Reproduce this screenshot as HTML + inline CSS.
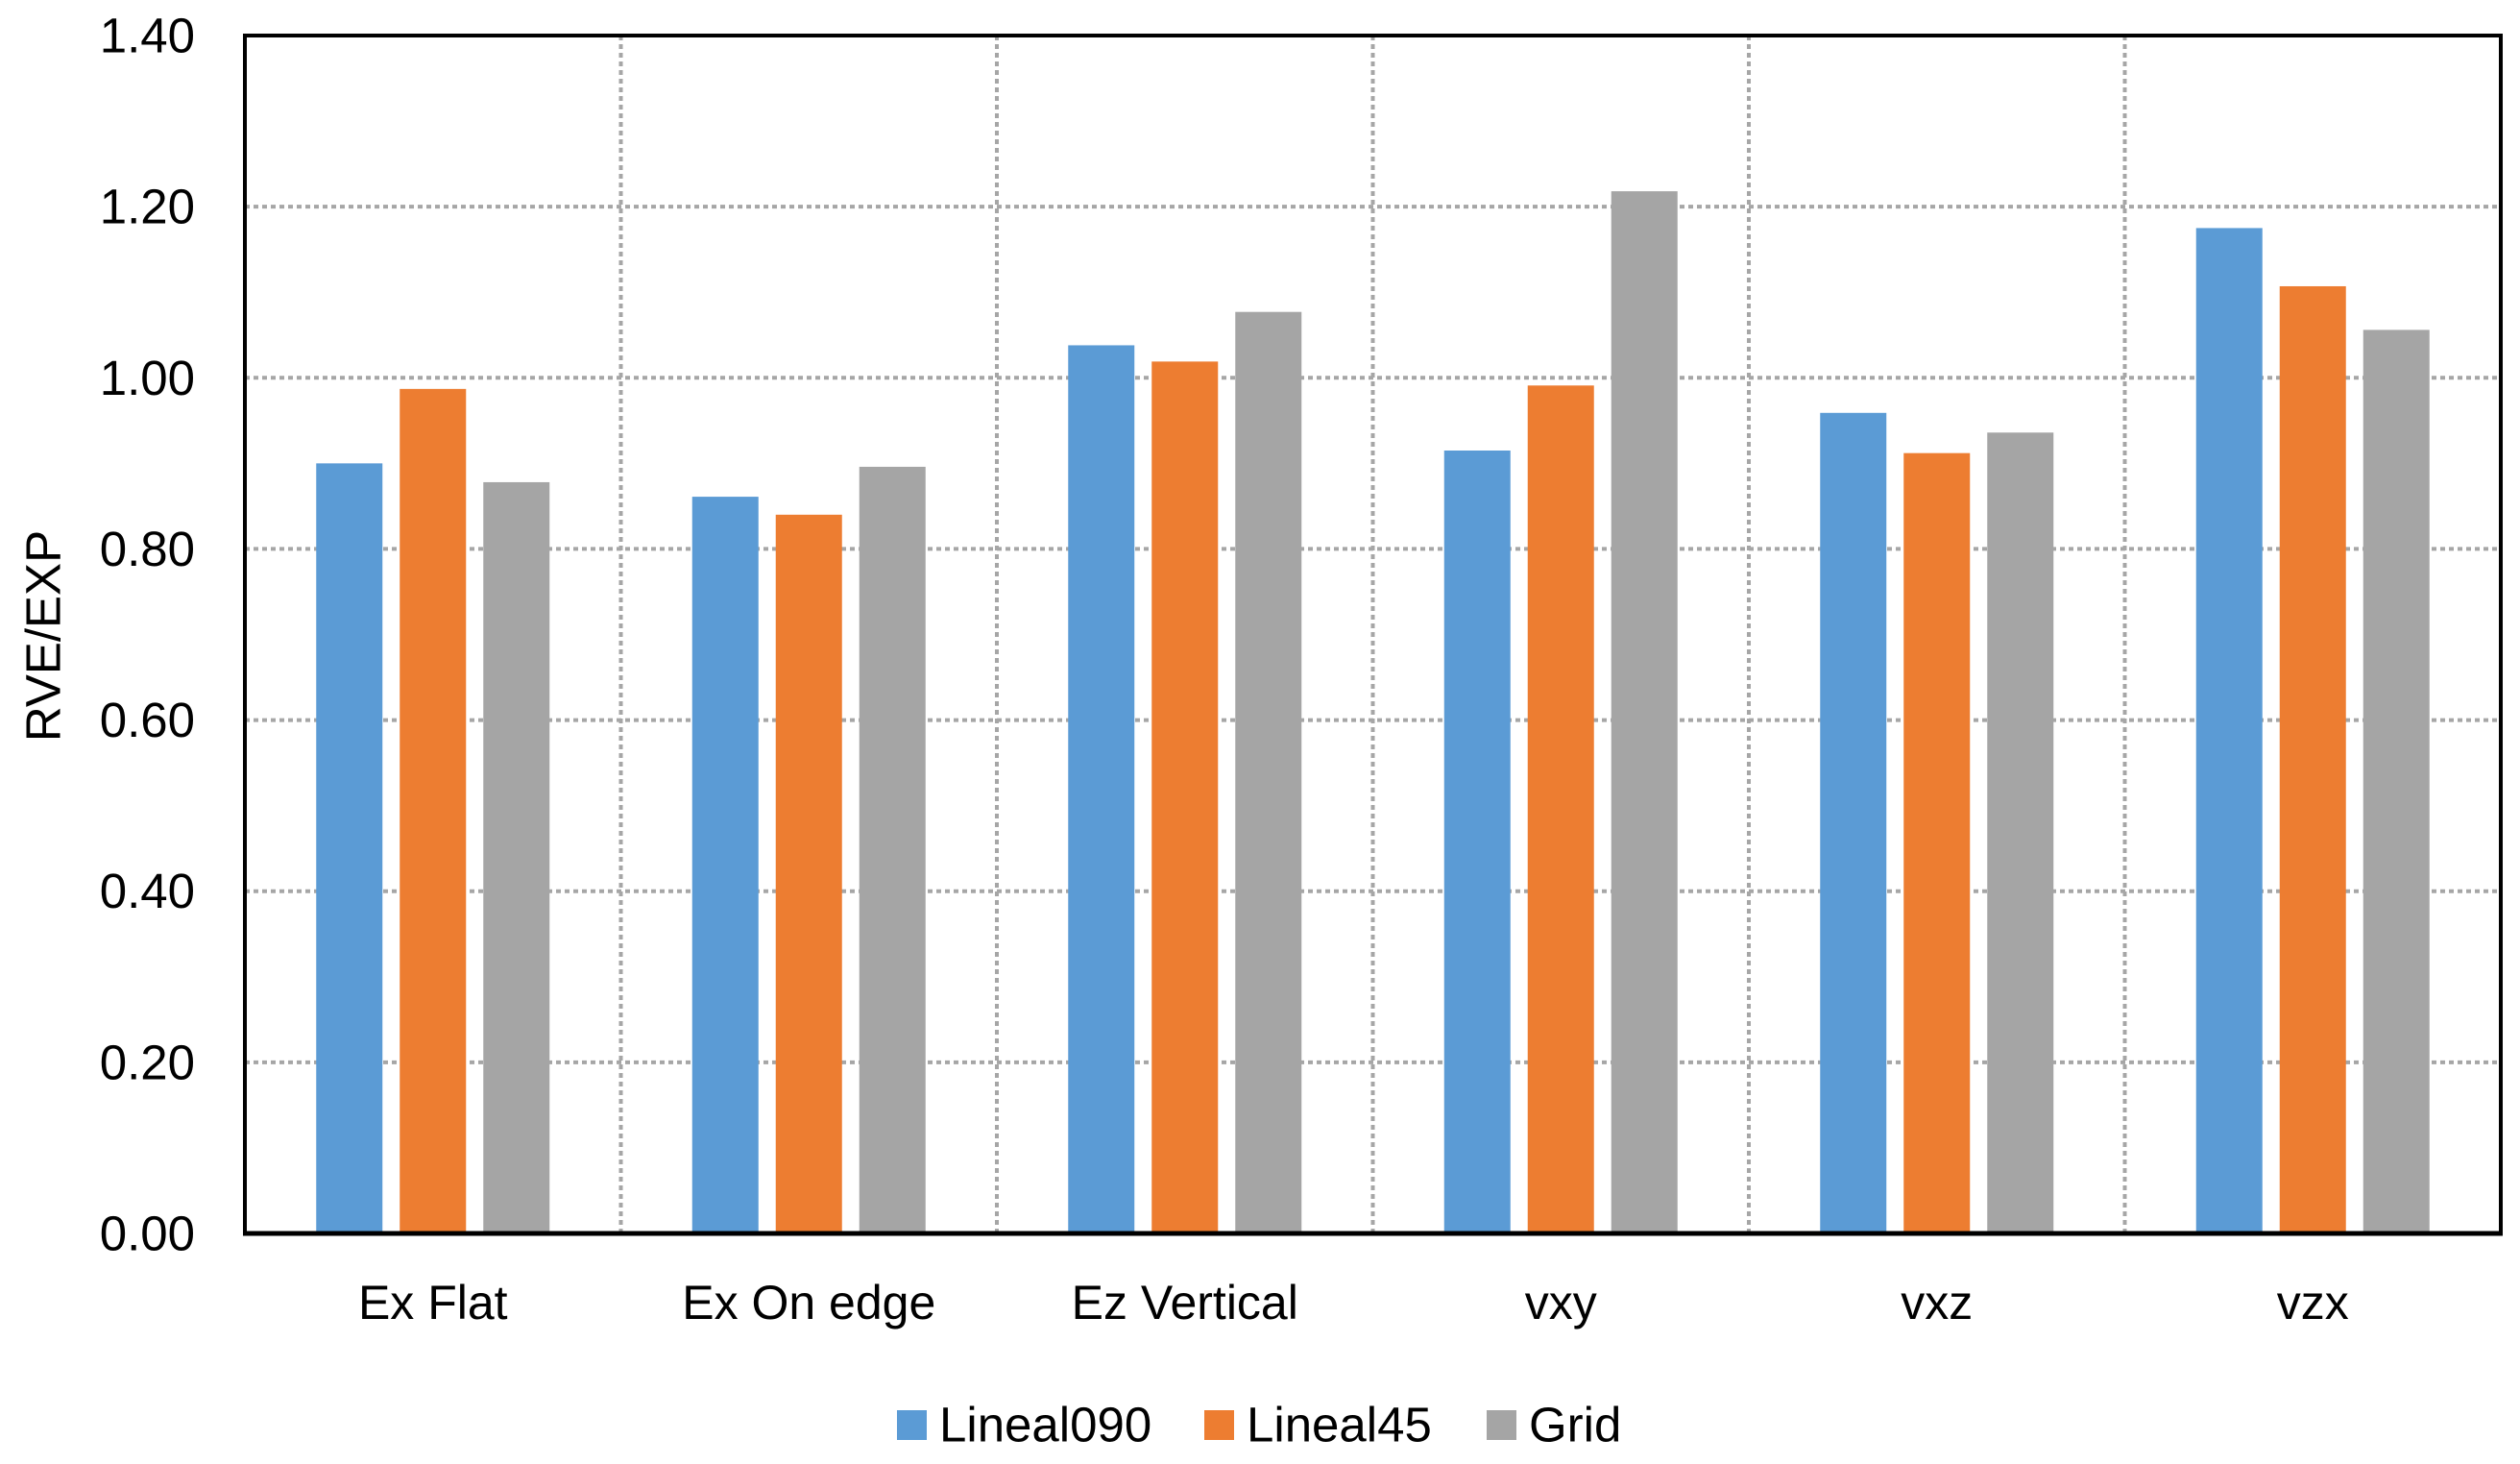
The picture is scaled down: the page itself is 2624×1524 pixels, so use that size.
<!DOCTYPE html>
<html><head><meta charset="utf-8"><style>
html,body{margin:0;padding:0;background:#fff;}
svg{display:block;font-family:"Liberation Sans",sans-serif;}
</style></head><body>
<svg id="chart" width="2624" height="1524" viewBox="0 0 2624 1524">
<g id="grid"></g>
<g id="bars"></g>
<rect x="255" y="37" width="2349" height="1247" fill="none" stroke="#000" stroke-width="4"/>
<line x1="253" y1="1284" x2="2606" y2="1284" stroke="#000" stroke-width="5"/>
<g id="yticks"></g>
<g id="xticks"></g>
<text x="45" y="662" transform="rotate(-90 45 662)" text-anchor="middle" dominant-baseline="central" font-size="51" fill="#000">RVE/EXP</text>
<g id="legend"></g>
</svg>
<script>
const categories = ["Ex Flat","Ex On edge","Ez Vertical","vxy","vxz","vzx"];
const seriesNames = ["Lineal090","Lineal45","Grid"];
const lineal090 = [0.900,0.861,1.038,0.915,0.959,1.175];
const lineal45 = [0.987,0.840,1.019,0.991,0.912,1.107];
const grid = [0.878,0.896,1.077,1.218,0.936,1.056];
const yTicks = [0,0.2,0.4,0.6,0.8,1.0,1.2,1.4];
const yTickLabels = ["0.00","0.20","0.40","0.60","0.80","1.00","1.20","1.40"];

const NS="http://www.w3.org/2000/svg";
const colors=["#5B9BD5","#ED7D31","#A5A5A5"];
const series=[lineal090,lineal45,grid];
const L=255,R=2604,T=37,B=1284,yMax=1.4;
const yS=v=>B-(v/yMax)*(B-T);
const catW=(R-L)/categories.length;
const xC=i=>L+catW*(i+0.5);
const barW=69,gap=18;
function mk(tag,attrs,parent){const e=document.createElementNS(NS,tag);for(const k in attrs)e.setAttribute(k,attrs[k]);parent.appendChild(e);return e;}
const g=document.getElementById('grid');
yTicks.forEach((v,i)=>{ if(v===0||v===yMax) return;
  const l=mk('line',{x1:L,x2:R,y1:yS(v),y2:yS(v),stroke:'#A6A6A6','stroke-width':4,'stroke-dasharray':'5 4'},g);
  
  
});
for(let i=1;i<categories.length;i++){
  const x=L+catW*i;
  const l=mk('line',{x1:x,x2:x,y1:T,y2:B,stroke:'#A6A6A6','stroke-width':4,'stroke-dasharray':'5 4'},g);
  
  
}
const bg=document.getElementById('bars');
series.forEach((s,si)=>{
  s.forEach((v,i)=>{
    const x=xC(i)+(si-1)*(barW+gap)-barW/2;
    const r=mk('rect',{x:x,y:yS(v),width:barW,height:B-yS(v),fill:colors[si]},bg);
    
    
  });
});
const yt=document.getElementById('yticks');
yTicks.forEach((v,i)=>{
  const t=mk('text',{x:203,y:yS(v),'text-anchor':'end','dominant-baseline':'central','font-size':51,fill:'#000'},yt);
  t.textContent=yTickLabels[i];
  
  
});
const xt=document.getElementById('xticks');
categories.forEach((c,i)=>{
  const t=mk('text',{x:xC(i),y:1356,'text-anchor':'middle','dominant-baseline':'central','font-size':50,fill:'#000'},xt);
  t.textContent=c;
  
  
});
const lg=document.getElementById('legend');
const legX=[934,1254,1548];
seriesNames.forEach((n,i)=>{
  const r=mk('rect',{x:legX[i],y:1468,width:31,height:31,fill:colors[i]},lg);
  
  
  const t=mk('text',{x:legX[i]+44,y:1483,'dominant-baseline':'central','font-size':51,fill:'#000'},lg);
  t.textContent=n;
  
  
});
</script>
</body></html>
